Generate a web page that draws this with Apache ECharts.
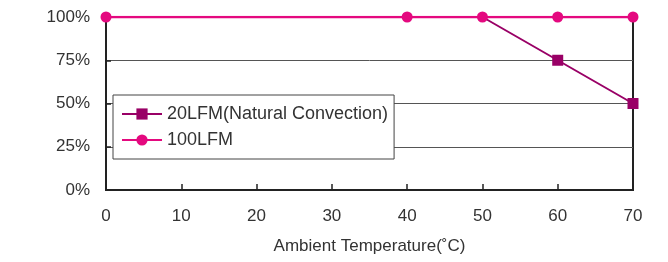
<!DOCTYPE html>
<html>
<head>
<meta charset="utf-8">
<script src="https://cdn.jsdelivr.net/npm/echarts@6/dist/echarts.min.js"></script>
<style>
html, body { margin: 0; padding: 0; background: #fff; }
#chart { width: 668px; height: 262px; }
</style>
</head>
<body>
<div id="chart"></div>
<script>
// derating curve values
var temps = [0, 40, 50, 60, 70];
var lfm20 = [100, 100, 100, 75, 50];
var lfm100 = [100, 100, 100, 100, 100];
var seriesNames = ['20LFM(Natural Convection)', '100LFM'];
var xTitle = 'Ambient Temperature(˚C)';

var font = 'Liberation Sans, Arial, sans-serif';
var textColor = '#333';

var chart = echarts.init(document.getElementById('chart'));

// 20LFM markers sit under the 100LFM circles where the curves overlap
var data20 = temps.map(function (t, i) {
    var item = { value: [t, lfm20[i]] };
    if (lfm20[i] === lfm100[i]) item.symbol = 'none';
    return item;
});

chart.setOption({
    animation: false,
    grid: {
        left: 106, right: 35, top: 17, bottom: 72,
        show: true, borderColor: '#222', borderWidth: 2, backgroundColor: 'transparent'
    },
    legend: {
        orient: 'vertical',
        left: 113, top: 95,
        padding: [10, 6, 10, 8],
        itemWidth: 40, itemHeight: 14, itemGap: 8,
        backgroundColor: '#fff',
        borderColor: '#444', borderWidth: 1,
        textStyle: { fontFamily: font, fontSize: 18, color: textColor },
        data: seriesNames
    },
    xAxis: {
        type: 'value', min: 0, max: 70, interval: 10,
        name: xTitle, nameLocation: 'middle', nameGap: 48,
        nameTextStyle: { fontFamily: font, fontSize: 17, color: textColor },
        axisLine: { lineStyle: { color: '#222', width: 2 } },
        axisTick: { inside: true, length: 6, lineStyle: { color: '#222', width: 1.5 } },
        axisLabel: { margin: 18, fontFamily: font, fontSize: 17, color: textColor },
        splitLine: { show: false }
    },
    yAxis: {
        type: 'value', min: 0, max: 100, interval: 25,
        axisLine: { show: true, lineStyle: { color: '#222', width: 2 } },
        axisTick: { show: true, inside: true, length: 5, lineStyle: { color: '#222', width: 1.5 } },
        axisLabel: { margin: 16, fontFamily: font, fontSize: 17, color: textColor, formatter: '{value}%' },
        splitLine: { show: true, lineStyle: { color: '#555', width: 1 } }
    },
    series: [
        {
            name: seriesNames[0], type: 'line',
            data: data20,
            symbol: 'rect', symbolSize: 11, showAllSymbol: true,
            lineStyle: { color: '#990066', width: 2 },
            itemStyle: { color: '#990066' },
            z: 2
        },
        {
            name: seriesNames[1], type: 'line',
            data: temps.map(function (t, i) { return [t, lfm100[i]]; }),
            symbol: 'circle', symbolSize: 11, showAllSymbol: true,
            lineStyle: { color: '#e4097f', width: 2.5 },
            itemStyle: { color: '#e4097f' },
            z: 3
        }
    ]
});
</script>
</body>
</html>
